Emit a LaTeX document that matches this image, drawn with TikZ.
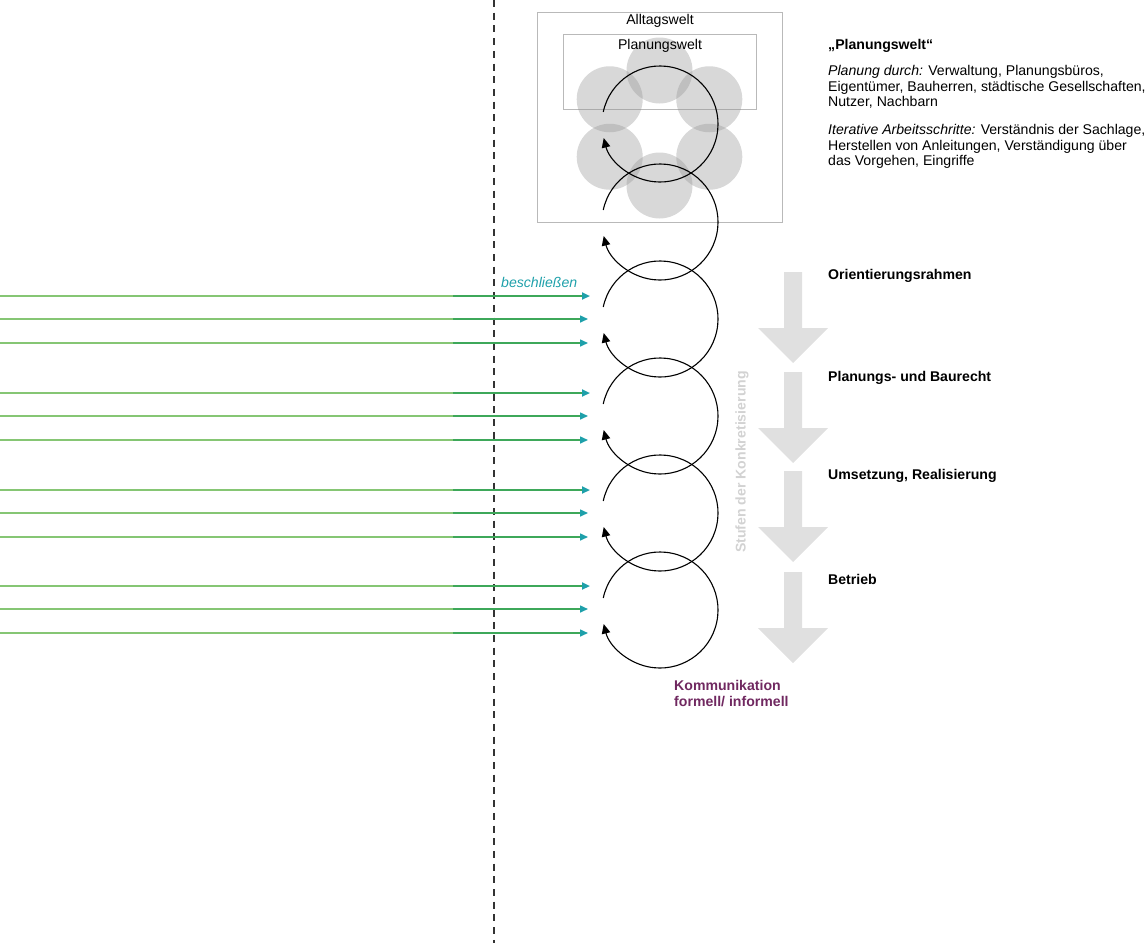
\documentclass[tikz,border=0pt]{standalone}
\usepackage{fontspec}
\setmainfont{Liberation Sans}
\usetikzlibrary{arrows.meta}

\definecolor{kommlila}{RGB}{112,40,96}
\definecolor{tuerkis}{RGB}{30,160,170}
\definecolor{hellgruen}{RGB}{134,198,116}
\definecolor{gruen}{RGB}{62,168,90}
\definecolor{pfeilgrau}{RGB}{224,224,224}
\definecolor{rahmengrau}{RGB}{185,185,185}
\definecolor{kreisgrau}{RGB}{148,148,148}
\definecolor{stufengrau}{RGB}{210,210,210}

\begin{document}
\begin{tikzpicture}[
x=1pt, y=-1pt,
txtnode/.style={inner sep=0pt, font=\fontsize{14.1}{15.6}\selectfont},
stufennode/.style={txtnode, anchor=west, font=\fontsize{14.1}{15.6}\selectfont\bfseries},
weltbox/.style={rectangle, draw=rahmengrau, line width=0.9pt, inner sep=0pt, anchor=north west},
kreisfl/.style={fill=kreisgrau, fill opacity=0.37},
zyklus/.style={line width=1.1pt, -{Triangle[length=9.5pt,width=8.5pt]}},
gruenpfeil/.style={draw=gruen, -{Triangle[length=8pt,width=7pt,color=tuerkis]}},
gruenlinie/.style={draw=hellgruen},
stufenpfeil/.style={fill=pfeilgrau},
trennlinie/.style={line width=1.6pt, black!80, dash pattern=on 7pt off 5.7pt},
]
\useasboundingbox (0,0) rectangle (1147,943);

%Trennlinie
\coordinate (trennoben) at (494,0);
\coordinate (trennunten) at (494,943);
\draw[trennlinie] (trennoben) -- (trennunten);

%Welten
\node[weltbox, minimum width=245pt, minimum height=210pt] (alltag) at (537,12) {};
\node[weltbox, minimum width=193pt, minimum height=75pt] (planwelt) at (563,34) {};
\foreach \w in {90,150,...,390}
  \fill[kreisfl] (659.5,128) ++(\w:57.5) circle[radius=33];
\node[txtnode] (alltagtxt) at (660,21) {Alltagswelt};
\node[txtnode] (planwelttxt) at (660,46) {Planungswelt};

%Stufen
\foreach \t in {272,372,471,572}
  \fill[stufenpfeil] (784,\t) -- (802,\t) -- (802,\t+56) -- (828,\t+56)
    -- (793,\t+91) -- (758,\t+56) -- (784,\t+56) -- cycle;
\node[txtnode, font=\fontsize{14.1}{15.6}\selectfont\bfseries, text=stufengrau, rotate=90]
  (konkret) at (742,462) {Stufen der Konkretisierung};
\node[stufennode] (orient) at (828,276) {Orientierungsrahmen};
\node[stufennode] (baurecht) at (828,378) {Planungs- und Baurecht};
\node[stufennode] (umsetz) at (828,476) {Umsetzung, Realisierung};
\node[stufennode] (betrieb) at (828,579) {Betrieb};

%Text rechts
\node[txtnode, anchor=west, font=\fontsize{14.1}{15.6}\selectfont\bfseries] (titel) at (828,46) {„Planungswelt“};
\node[txtnode, anchor=north west, align=left] (planung) at (828,65)
  {\textit{Planung durch:} Verwaltung, Planungsbüros,\\
   Eigentümer, Bauherren, städtische Gesellschaften,\\
   Nutzer, Nachbarn};
\node[txtnode, anchor=north west, align=left] (iterativ) at (828,124)
  {\textit{Iterative Arbeitsschritte:} Verständnis der Sachlage,\\
   Herstellen von Anleitungen, Verständigung über\\
   das Vorgehen, Eingriffe};

%Zyklen
\foreach \cy [count=\i] in {124,222,319,416,513,610} {
  \coordinate (zyk\i) at (660,\cy);
  \draw[zyklus] ([shift={(-168:58)}]zyk\i) arc[start angle=-168, end angle=166, radius=58];
}

%Beschluesse
\foreach \y/\xe/\lw [count=\n] in {296/590/2, 319/588/1.5, 343/588/1.5,
                                    393/590/2, 416/588/1.5, 440/588/1.5,
                                    490/590/2, 513/588/1.5, 537/588/1.5,
                                    586/590/2, 609/588/1.5, 633/588/1.5} {
  \coordinate (gs\n) at (0,\y);
  \coordinate (gm\n) at (453,\y);
  \coordinate (ge\n) at (\xe,\y);
  \draw[gruenpfeil, line width=\lw pt] (gm\n) -- (ge\n);
  \draw[gruenlinie, line width=\lw pt] (gs\n) -- (gm\n);
}
\node[txtnode, anchor=west, text=tuerkis, font=\fontsize{14.1}{15.6}\selectfont\itshape] (beschl) at (501,282) {beschließen};

\node[txtnode, anchor=north west, align=left, text=kommlila, font=\fontsize{14.1}{15.6}\selectfont\bfseries]
  (komm) at (674,680) {Kommunikation\\formell/ informell};
\end{tikzpicture}
\end{document}
